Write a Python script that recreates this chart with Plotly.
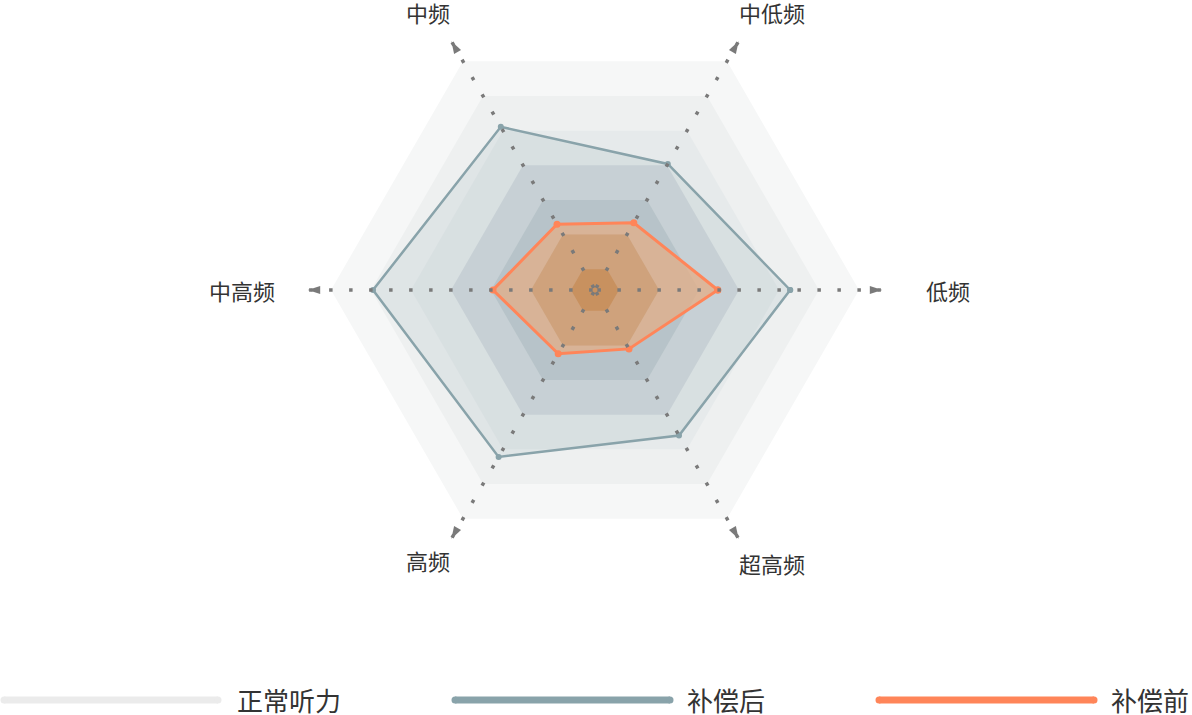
import math
import plotly.graph_objects as go

# ---------------- data ----------------
axes_names = ["低频", "中低频", "中频", "中高频", "高频", "超高频"]
series_names = ["正常听力", "补偿后", "补偿前"]
after_values = [48.8, 36.4, 47.1, 55.5, 48.2, 42.0]    # 补偿后
before_values = [30.7, 19.4, 19.0, 25.5, 18.4, 17.0]   # 补偿前
normal_values = [66, 66, 66, 66, 66, 66]               # 正常听力 (outer ring)
ring_levels = [66, 56, 46, 36, 26, 16, 6]

# ---------------- style ----------------
ring_colors = ["#f6f7f7", "#eef0f0", "#e6eaeb", "#d2d8dc", "#bfc9ce", "#afbcc2", "#a0adb4"]
inner_tint_levels = [16, 6]
inner_tint_colors = ["#cfa27c", "#c8915f"]
c_normal = "#ebebeb"
c_after = "#89a3aa"
c_before = "#ff8559"
dot_color = "#7a7a7a"
FONT = "Noto Sans CJK SC, Noto Sans, sans-serif"

W, H = 1192, 715
CX, CY, RAD = 595, 290, 290          # polar centre / radius in px
R_MAX = 72.5                          # radial range shown in the polar radius


def closed(vals):
    return list(vals) + [vals[0]]


theta_closed = closed(axes_names)

fig = go.Figure()

# hexagonal bands (outermost = 正常听力)
ring_values = [normal_values] + [[lvl] * len(axes_names) for lvl in ring_levels[1:]]
for i, (vals, col) in enumerate(zip(ring_values, ring_colors)):
    fig.add_trace(go.Scatterpolar(
        r=closed(vals), theta=theta_closed,
        mode="lines", fill="toself", fillcolor=col,
        line=dict(width=0, color=col), hoverinfo="skip",
        name=series_names[0] if i == 0 else "ring",
        showlegend=False))

# 补偿后
fig.add_trace(go.Scatterpolar(
    r=closed(after_values), theta=theta_closed, name=series_names[1],
    mode="lines+markers", fill="toself", fillcolor="rgba(134,161,170,0.14)",
    line=dict(color=c_after, width=2.5), marker=dict(size=6, color=c_after),
    showlegend=False))

# 补偿前
fig.add_trace(go.Scatterpolar(
    r=closed(before_values), theta=theta_closed, name=series_names[2],
    mode="lines+markers", fill="toself", fillcolor="rgba(227,173,134,0.75)",
    line=dict(color=c_before, width=3), marker=dict(size=7, color=c_before),
    showlegend=False))

# inner tinted bands (seen through the 补偿前 area)
for lvl, col in zip(inner_tint_levels, inner_tint_colors):
    fig.add_trace(go.Scatterpolar(
        r=closed([lvl] * len(axes_names)), theta=theta_closed,
        mode="lines", fill="toself", fillcolor=col,
        line=dict(width=0, color=col), hoverinfo="skip", showlegend=False))

# dotted axis lines
dot_r, dot_t = [], []
for name in axes_names:
    dot_r += [0.6, 72, None]
    dot_t += [name, name, None]
fig.add_trace(go.Scatterpolar(
    r=dot_r, theta=dot_t, mode="lines",
    line=dict(color=dot_color, width=3.5, dash="3.5px,16.5px"),
    hoverinfo="skip", showlegend=False))

# arrow heads
arrow_angles = [90, 30, -30, -90, -150, 150]
fig.add_trace(go.Scatterpolar(
    r=[71.8] * len(axes_names), theta=axes_names, mode="markers",
    marker=dict(symbol="arrow", size=13, color=dot_color, angle=arrow_angles),
    cliponaxis=False, hoverinfo="skip", showlegend=False))

fig.update_layout(
    width=W, height=H,
    margin=dict(l=0, r=0, t=0, b=0),
    paper_bgcolor="white",
    font=dict(family=FONT, color="#333333"),
    polar=dict(
        domain=dict(x=[(CX - RAD) / W, (CX + RAD) / W], y=[(H - CY - RAD) / H, (H - CY + RAD) / H]),
        bgcolor="rgba(0,0,0,0)",
        radialaxis=dict(visible=False, range=[0, R_MAX]),
        angularaxis=dict(type="category", categoryarray=axes_names,
                         direction="counterclockwise", rotation=0,
                         showgrid=False, showline=False, showticklabels=False, ticks=""),
    ),
)

# axis name labels
label_r_px = [353, 322, 322, 353, 322, 322]
label_xshift = [0, 16, -6, 0, -6, 16]
label_yshift = [0, -1, -1, 0, 9, 6]
for k, name in enumerate(axes_names):
    ang = math.radians(60 * k)
    xp = CX + label_r_px[k] * math.cos(ang)
    yp = CY - label_r_px[k] * math.sin(ang)
    fig.add_annotation(x=xp / W, y=1 - yp / H, xref="paper", yref="paper",
                       text=name, showarrow=False, xanchor="center", yanchor="middle",
                       xshift=label_xshift[k], yshift=label_yshift[k],
                       font=dict(size=22, color="#333333", family=FONT))

# custom legend
legend_colors = [c_normal, c_after, c_before]
legend_line_x = [(4, 218), (455, 670), (879, 1094)]
legend_text_x = [235, 685, 1109]
legend_y = 700
for name, col, (x0, x1), tx in zip(series_names, legend_colors, legend_line_x, legend_text_x):
    fig.add_shape(type="line", xref="paper", yref="paper",
                  x0=x0 / W, x1=x1 / W, y0=1 - legend_y / H, y1=1 - legend_y / H,
                  line=dict(color=col, width=7))
    for xe in (x0, x1):
        fig.add_shape(type="circle", xref="paper", yref="paper",
                      xsizemode="pixel", ysizemode="pixel",
                      xanchor=xe / W, yanchor=1 - legend_y / H,
                      x0=-3.5, x1=3.5, y0=-3.5, y1=3.5,
                      line=dict(width=0), fillcolor=col)
    fig.add_annotation(x=tx / W, y=1 - (legend_y - 1) / H, xref="paper", yref="paper",
                       text=name, showarrow=False, xanchor="left", yanchor="middle",
                       font=dict(size=26, color="#333333", family=FONT))

fig.write_html(
    "out.html",
    config={"displayModeBar": False},
    post_script="document.body.style.margin='0';document.body.style.overflow='hidden';",
)
